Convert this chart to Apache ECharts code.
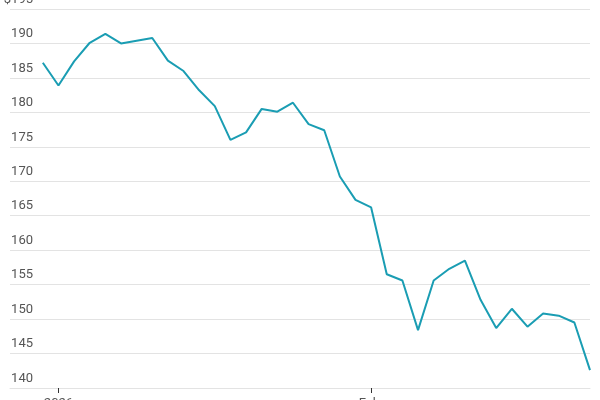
<!DOCTYPE html>
<html>
<head>
<meta charset="utf-8">
<script src="https://cdn.jsdelivr.net/npm/echarts@6/dist/echarts.min.js"></script>
<style>
	html, body { margin: 0; padding: 0; background: #fff; }
	#chart { width: 600px; height: 400px; }
</style>
</head>
<body>
<div id="chart"></div>
<script>
// 交易日（2025-12-31 起）
const dates = [
	'2025-12-31', '2026-01-02', '2026-01-05', '2026-01-06', '2026-01-07', '2026-01-08',
	'2026-01-09', '2026-01-12', '2026-01-13', '2026-01-14', '2026-01-15', '2026-01-16',
	'2026-01-20', '2026-01-21', '2026-01-22', '2026-01-23', '2026-01-26', '2026-01-27',
	'2026-01-28', '2026-01-29', '2026-01-30', '2026-02-02', '2026-02-03', '2026-02-04',
	'2026-02-05', '2026-02-06', '2026-02-09', '2026-02-10', '2026-02-11', '2026-02-12',
	'2026-02-13', '2026-02-17', '2026-02-18', '2026-02-19', '2026-02-20', '2026-02-23'
];
// 收盘价
const prices = [
	187.2, 183.9, 187.4, 190.1, 191.4, 190.0, 190.4, 190.8, 187.5, 186.0,
	183.2, 180.9, 176.0, 177.1, 180.5, 180.1, 181.4, 178.3, 177.4, 170.7,
	167.3, 166.2, 156.5, 155.6, 148.4, 155.6, 157.3, 158.5, 152.8, 148.7,
	151.5, 148.9, 150.8, 150.5, 149.5, 142.6
];
// x 轴标签
const tickDates = ['2026-01-02', '2026-02-02'];
const tickLabels = ['2026', 'Feb.'];

const tickIdx = tickDates.map(d => dates.indexOf(d));
const font = 'Roboto, sans-serif';

const chart = echarts.init(document.getElementById('chart'));
chart.setOption({
	animation: false,
	grid: { left: 10, right: 10, top: 9, bottom: 12, containLabel: false, outerBoundsMode: 'none' },
	xAxis: {
		type: 'value',
		min: -2.1,
		max: dates.length - 1,
		axisLine: { show: true, lineStyle: { color: '#e3e3e3', width: 1 } },
		axisTick: {
			show: true,
			customValues: tickIdx,
			length: 5,
			lineStyle: { color: '#333' }
		},
		axisLabel: {
			customValues: tickIdx,
			formatter: v => tickLabels[tickIdx.indexOf(Math.round(v))] || '',
			color: '#555',
			fontFamily: font,
			fontSize: 13,
			margin: 9
		},
		splitLine: { show: false }
	},
	yAxis: {
		type: 'value',
		min: 140,
		max: 195,
		interval: 5,
		axisLine: { show: false },
		axisTick: { show: false },
		axisLabel: {
			inside: true,
			align: 'right',
			verticalAlign: 'bottom',
			margin: 23,
			padding: [0, 0, 3, 0],
			color: '#555',
			fontFamily: font,
			fontSize: 13,
			formatter: v => (v === 195 ? '$' + v : String(v))
		},
		splitLine: { show: true, lineStyle: { color: '#e3e3e3', width: 1 } }
	},
	series: [
		{
			type: 'line',
			data: prices.map((p, i) => [i, p]),
			symbol: 'none',
			lineStyle: { color: '#1a9db3', width: 2 }
		}
	]
});
</script>
</body>
</html>
